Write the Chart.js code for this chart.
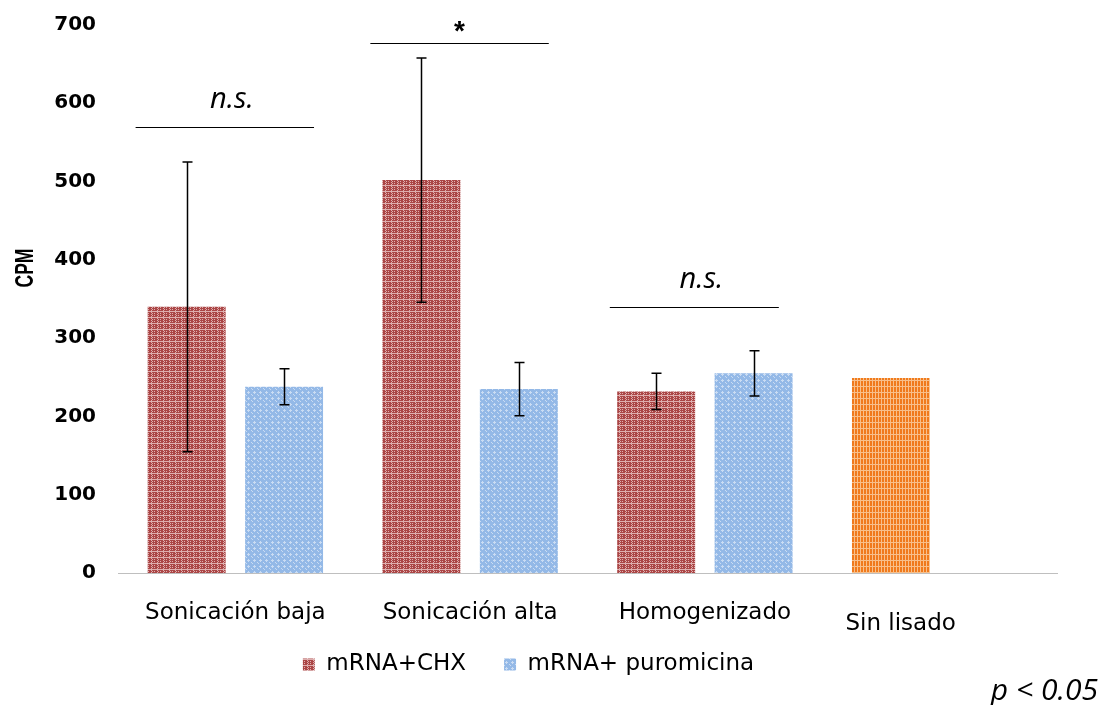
<!DOCTYPE html>
<html lang="es">
<head>
<meta charset="UTF-8">
<title>CPM</title>
<style>
  html, body { margin: 0; padding: 0; background: #fff; }
  #wrap { width: 1106px; height: 705px; position: relative; }
</style>
</head>
<body>
<div id="wrap"><canvas id="chart"></canvas></div>
<script src="https://cdn.jsdelivr.net/npm/chart.js"></script>
<script>
const categories = ["Sonicación baja", "Sonicación alta", "Homogenizado", "Sin lisado"];
const chxValues = [340, 502, 232, 249];
const chxErrors = [185, 156, 23, null];
const puroValues = [238, 235, 255, null];
const puroErrors = [23, 34, 29, null];
const yTicks = [0, 100, 200, 300, 400, 500, 600, 700];
const sigLabels = ["n.s.", "*", "n.s."];
const sigLevels = [570, 677, 340];

// trames type Excel
function makePattern(base, light, kind) {
  const c = document.createElement("canvas");
  c.width = 6; c.height = 6;
  const g = c.getContext("2d");
  g.fillStyle = base;
  g.fillRect(0, 0, 6, 6);
  g.fillStyle = light;
  if (kind === "red") {
    for (let y = 0; y < 6; y += 2) { g.fillRect(1, y, 1, 1); g.fillRect(4, y + 1, 1, 1); g.fillRect(2, y + 1, 1, 1); }
    g.fillRect(0, 5, 6, 1);
  } else if (kind === "blue") {
    g.fillRect(2, 1, 1, 3); g.fillRect(1, 2, 3, 1);
    g.fillRect(5, 4, 1, 1); g.fillRect(0, 5, 1, 1);
  } else {
    g.fillRect(2, 0, 1, 6); g.fillRect(5, 0, 1, 6);
    g.fillRect(0, 2, 6, 1);
  }
  return g.createPattern(c, "repeat");
}
const ctx = document.getElementById("chart").getContext("2d");
const redFill = makePattern("#ab4646", "#deaeae", "red");
const blueFill = makePattern("#94b9e7", "#cadcf3", "blue");
const orangeFill = makePattern("#f07a1c", "#f8bf8a", "orange");

const FONT = "'DejaVu Sans', sans-serif";
const ARIAL = "'Liberation Sans', Arial, sans-serif";
const ITALIC = "'Open Sans', 'Noto Sans', sans-serif";

const extras = {
  id: "extras",
  afterDatasetsDraw(chart) {
    const g = chart.ctx;
    const y = chart.scales.y;
    g.save();
    g.strokeStyle = "#000";
    g.lineWidth = 1.5;
    [chxErrors, puroErrors].forEach((errs, di) => {
      const meta = chart.getDatasetMeta(di);
      const vals = chart.data.datasets[di].data;
      errs.forEach((e, i) => {
        if (e == null || vals[i] == null) return;
        const x = Math.round(meta.data[i].x) + 0.5;
        const top = y.getPixelForValue(vals[i] + e);
        const bot = y.getPixelForValue(vals[i] - e);
        g.beginPath();
        g.moveTo(x, top); g.lineTo(x, bot);
        g.moveTo(x - 5, top); g.lineTo(x + 5, top);
        g.moveTo(x - 5, bot); g.lineTo(x + 5, bot);
        g.stroke();
      });
    });
    g.restore();
  },
  afterDraw(chart) {
    const g = chart.ctx;
    const xs = chart.scales.x, ys = chart.scales.y;
    const area = chart.chartArea;
    const w = (area.right - area.left) / categories.length;
    g.save();
    // barres de significativité
    sigLabels.forEach((lab, i) => {
      const cx = xs.getPixelForValue(i) - 0.045 * w;
      const half = i === 2 ? 0.36 * w : 0.38 * w;
      const yy = Math.round(ys.getPixelForValue(sigLevels[i])) + 0.5;
      g.strokeStyle = "#000";
      g.lineWidth = 1.2;
      g.beginPath();
      g.moveTo(cx - half, yy); g.lineTo(cx + half, yy);
      g.stroke();
      g.fillStyle = "#000";
      g.textAlign = "center";
      g.textBaseline = "alphabetic";
      if (lab === "*") {
        g.font = "bold 28px " + ARIAL;
        g.fillText(lab, cx, yy - 4);
      } else {
        g.font = "italic 29px " + ITALIC;
        g.fillText(lab, cx + 0.03 * w, yy - 20);
      }
    });
    // étiquettes de catégories
    g.font = "23px " + FONT;
    g.fillStyle = "#000";
    g.textAlign = "center";
    g.textBaseline = "middle";
    categories.forEach((c, i) => {
      let x = xs.getPixelForValue(i);
      let yy = area.bottom + 40;
      if (i === categories.length - 1) { x -= 39; yy += 11; }
      g.fillText(c, x, yy);
    });
    // titre de l'axe Y
    g.save();
    g.translate(25, 268);
    g.scale(1.45, 1);
    g.rotate(-Math.PI / 2);
    g.font = "bold 17.5px " + ARIAL;
    g.fillText("CPM", 0, 1);
    g.restore();
    // p
    g.font = "italic 30px " + ITALIC;
    g.textAlign = "right";
    g.textBaseline = "alphabetic";
    g.fillText("p < 0.05", 1098, 700);
    g.restore();
  }
};

new Chart(ctx, {
  type: "bar",
  data: {
    labels: categories,
    datasets: [
      {
        label: "mRNA+CHX",
        data: chxValues,
        backgroundColor: chxValues.map((v, i) => (i === 3 ? orangeFill : redFill)),
        categoryPercentage: 0.83,
        barPercentage: 0.8
      },
      {
        label: "mRNA+ puromicina",
        data: puroValues,
        backgroundColor: blueFill,
        categoryPercentage: 0.83,
        barPercentage: 0.8
      }
    ]
  },
  options: {
    responsive: true,
    maintainAspectRatio: false,
    animation: false,
    layout: { padding: { top: 25, right: 49, left: 0, bottom: 19 } },
    scales: {
      x: {
        grid: { display: false, drawTicks: false },
        border: { display: true, color: "#bfbfbf", width: 1 },
        ticks: { display: false },
        afterFit(scale) { scale.height = 42; }
      },
      y: {
        min: 0,
        max: 700,
        afterBuildTicks(scale) { scale.ticks = yTicks.map((v) => ({ value: v })); },
        grid: { display: false, drawTicks: false },
        border: { display: false },
        ticks: { color: "#000", padding: 22, font: { family: FONT, size: 20, weight: "bold" } },
        afterFit(scale) {
          scale.width = 118;
          scale.paddingTop = 0;
          scale.paddingBottom = 0;
        }
      }
    },
    plugins: {
      legend: {
        position: "bottom",
        labels: {
          color: "#000",
          boxWidth: 12,
          boxHeight: 12,
          padding: 38,
          font: { family: FONT, size: 23 }
        }
      },
      tooltip: { enabled: false }
    }
  },
  plugins: [extras]
});
</script>
</body>
</html>
